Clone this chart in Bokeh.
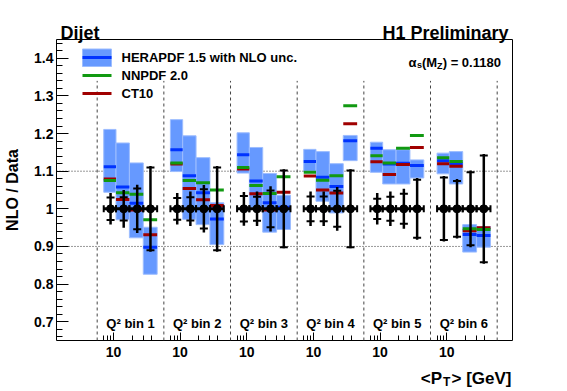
import numpy as np
from bokeh.plotting import figure
from bokeh.models import Range1d, FixedTicker, CustomJSTickFormatter, Span, Label, ColumnDataSource
from bokeh.embed import file_html
from bokeh.resources import INLINE
from bokeh.core.properties import value

# ---------------- data ----------------
q2_labels = ["Q² bin 1", "Q² bin 2", "Q² bin 3", "Q² bin 4", "Q² bin 5", "Q² bin 6"]
pt_edges = [7.0, 11.0, 18.0, 30.0, 50.0]
pt_mean = [9.0, 14.6, 24.0, 39.1]

# HERAPDF 1.5 (central, upper and lower edge of NLO uncertainty band)
hera_central = [1.112, 1.058, 1.015, 0.898,
                1.157, 1.088, 1.043, 0.973,
                1.144, 1.074, 1.016, 1.004,
                1.126, 1.084, 1.059, 1.181,
                1.161, 1.119, 1.121, 1.115,
                1.128, 1.120, 0.932, 0.929]
hera_up = [1.211, 1.175, 1.122, 0.951,
           1.237, 1.194, 1.136, 1.016,
           1.202, 1.163, 1.094, 1.036,
           1.158, 1.152, 1.120, 1.195,
           1.177, 1.157, 1.157, 1.130,
           1.148, 1.152, 0.958, 0.953]
hera_down = [1.044, 0.971, 0.923, 0.826,
             1.099, 0.972, 0.958, 0.905,
             1.095, 1.003, 0.938, 0.945,
             1.100, 1.020, 0.989, 1.128,
             1.097, 1.066, 1.066, 1.082,
             1.093, 1.066, 0.885, 0.898]
nnpdf = [1.075, 1.043, 1.039, 0.971,
         1.122, 1.075, 1.069, 1.050,
         1.110, 1.062, 1.041, 1.085,
         1.097, 1.076, 1.088, 1.274,
         1.141, 1.122, 1.161, 1.195,
         1.136, 1.126, 0.947, 0.945]
ct10 = [1.079, 1.025, 0.997, 0.931,
        1.119, 1.054, 1.024, 1.009,
        1.106, 1.040, 0.997, 1.044,
        1.087, 1.050, 1.042, 1.226,
        1.125, 1.091, 1.118, 1.163,
        1.120, 1.113, 0.942, 0.950]
data_ratio = [1.0, 1.0, 1.0, 1.0,
              1.0, 1.0, 1.0, 1.0,
              1.0, 1.0, 1.0, 1.0,
              1.0, 1.0, 1.0, 1.0,
              1.0, 1.0, 1.0, 1.0,
              1.0, 1.0, 1.0, 1.0]
stat_err = [0.030, 0.031, 0.054, 0.110,
            0.029, 0.031, 0.052, 0.110,
            0.034, 0.032, 0.049, 0.102,
            0.033, 0.033, 0.048, 0.102,
            0.027, 0.032, 0.040, 0.077,
            0.083, 0.074, 0.097, 0.142]
tot_err = [0.042, 0.050, 0.064, 0.114,
           0.042, 0.046, 0.063, 0.114,
           0.045, 0.046, 0.060, 0.105,
           0.046, 0.046, 0.058, 0.105,
           0.042, 0.046, 0.053, 0.082,
           0.087, 0.079, 0.102, 0.146]

y_ticks = [0.7, 0.8, 0.9, 1.0, 1.1, 1.2, 1.3, 1.4]
x_major = [10.0]
x_minor = [7.0, 8.0, 9.0, 20.0, 30.0, 40.0]

# ---------------- layout ----------------
panel_lo, panel_hi = 5.5, 64.0      # pT range of each Q2 panel (log axis)
F = panel_hi / panel_lo
n_bins = len(q2_labels)
x_start, x_end = 1.23, 2.4e7
y_start, y_end = 0.65, 1.45
W, H = 567, 391
FW, FH = 456, 301
FL, FT = 56, 39  # frame position in page pixels

LOGX0 = np.log10(x_start)
PXD = FW / (np.log10(x_end) - LOGX0)


def xd(px):
    return 10 ** (LOGX0 + (px - FL) / PXD)


def yd(py):
    return y_end - (py - FT) / FH * (y_end - y_start)


FONT = "Liberation Sans"

p = figure(width=W, height=H, x_axis_type="log",
           x_range=Range1d(x_start, x_end), y_range=Range1d(y_start, y_end),
           output_backend="svg", toolbar_location=None,
           min_border_left=FL, min_border_right=W - FL - FW,
           min_border_top=FT, min_border_bottom=H - FT - FH)
p.xgrid.visible = False
p.ygrid.visible = False
p.outline_line_color = "black"
p.outline_line_width = 1
p.background_fill_color = "white"
p.border_fill_color = "white"

# axes
bidx = np.repeat(np.arange(n_bins), 4)
fpow = F ** bidx
p.xaxis.ticker = FixedTicker(ticks=[t * F ** b for b in range(n_bins) for t in x_major],
                             minor_ticks=[t * F ** b for b in range(n_bins) for t in x_minor])
p.xaxis.formatter = CustomJSTickFormatter(code="return '10';")
p.yaxis.ticker = FixedTicker(ticks=y_ticks,
                             minor_ticks=list(np.round(np.arange(0.66, 1.445, 0.02), 3)))
p.yaxis.formatter = CustomJSTickFormatter(code="return (Math.round(tick*10)/10).toString();")
for ax in (p.xaxis[0], p.yaxis[0]):
    ax.axis_line_color = None
    ax.major_tick_out = 0
    ax.minor_tick_out = 0
    ax.major_tick_line_color = "black"
    ax.minor_tick_line_color = "black"
    ax.major_label_text_font = FONT
    ax.major_label_text_font_style = "bold"
    ax.major_label_text_font_size = "14px"
    ax.major_label_text_color = "black"
p.xaxis.major_tick_in = 8
p.xaxis.minor_tick_in = 5
p.xaxis.major_label_standoff = 6
p.yaxis.major_tick_in = 12
p.yaxis.minor_tick_in = 6
p.yaxis.major_label_standoff = 3
p.yaxis.axis_label = "NLO / Data"
p.yaxis.axis_label_text_font = FONT
p.yaxis.axis_label_text_font_style = "bold"
p.yaxis.axis_label_text_font_size = "16px"
p.yaxis.axis_label_text_color = "black"
p.yaxis.axis_label_standoff = 10

# reference lines
for yl in (1.1, 0.9):
    p.add_layout(Span(location=yl, dimension="width", line_color="#333333",
                      line_dash="1 2", line_width=1, level="underlay"))
edges_x = [panel_lo * F ** b for b in range(n_bins + 1)]
p.segment(x0=edges_x, x1=edges_x, y0=[y_start] * len(edges_x), y1=[1.34] * len(edges_x),
          line_color="#444444", line_dash="3 3", line_width=1)

src = ColumnDataSource(dict(
    xm=np.tile(pt_mean, n_bins) * fpow,
    xl=np.tile(pt_edges[:-1], n_bins) * fpow,
    xh=np.tile(pt_edges[1:], n_bins) * fpow,
    hc=hera_central, hu=hera_up, hd=hera_down, nn=nnpdf, ct=ct10,
    y=data_ratio,
    tu=np.array(data_ratio) + np.array(tot_err), td=np.array(data_ratio) - np.array(tot_err),
    su=np.array(data_ratio) + np.array(stat_err), sd=np.array(data_ratio) - np.array(stat_err),
))

BOX = "#6699ff"
BLUE = "#0033ff"
GREEN = "#119911"
RED = "#a00000"

p.quad(left="xl", right="xh", bottom="hd", top="hu", source=src,
       fill_color=BOX, line_color="#9dbdff", line_width=1)
p.segment(x0="xl", x1="xh", y0="hc", y1="hc", source=src, line_color=BLUE, line_width=3)
p.segment(x0="xl", x1="xh", y0="ct", y1="ct", source=src, line_color=RED, line_width=3)
p.segment(x0="xl", x1="xh", y0="nn", y1="nn", source=src, line_color=GREEN, line_width=3)

# data with errors
p.segment(x0="xl", x1="xh", y0="y", y1="y", source=src, line_color="black", line_width=3)
p.scatter(x="xl", y="y", source=src, marker="dash", angle=np.pi / 2, size=7,
          line_color="black", line_width=2)
p.scatter(x="xh", y="y", source=src, marker="dash", angle=np.pi / 2, size=7,
          line_color="black", line_width=2)
p.segment(x0="xm", x1="xm", y0="td", y1="tu", source=src, line_color="black", line_width=2.5)
p.scatter(x="xm", y="su", source=src, marker="dash", size=8, line_color="black", line_width=2)
p.scatter(x="xm", y="sd", source=src, marker="dash", size=8, line_color="black", line_width=2)
p.scatter(x="xm", y="y", source=src, marker="circle", size=8, fill_color="black",
          line_color="black")

# Q2 bin labels
lab_src = ColumnDataSource(dict(
    x=[np.sqrt(panel_lo * panel_hi) * F ** b for b in range(n_bins)],
    y=[yd(323)] * n_bins, t=q2_labels))
p.text(x="x", y="y", text="t", source=lab_src, text_font=value(FONT),
       text_font_style="bold", text_font_size="13px", text_align="center",
       text_baseline="middle", text_color="black")

# legend (drawn by hand, ROOT style)
p.quad(left=[xd(82)], right=[xd(111)], top=[yd(48.5)], bottom=[yd(66)],
       fill_color=BOX, line_color="#9dbdff", line_width=1)
for py, col in ((57, BLUE), (75, GREEN), (93, RED)):
    p.segment(x0=[xd(82)], x1=[xd(111)], y0=[yd(py)], y1=[yd(py)], line_color=col, line_width=3)


def lab(px, py, txt, size, align="left", baseline="alphabetic", angle=0.0, side=None):
    lb = Label(x=xd(px), y=yd(py), text=txt, text_font=FONT, text_font_style="bold",
               text_font_size=size, text_align=align, text_baseline=baseline,
               angle=angle, text_color="black")
    if side is None:
        p.add_layout(lb)
    else:
        p.add_layout(lb, side)


for py, txt in ((57, "HERAPDF 1.5 with NLO unc."), (75, "NNPDF 2.0"), (93, "CT10")):
    lab(121, py, txt, "13px", baseline="middle")

# alpha_s label
lab(408, 61.5, "α", "13px")
lab(416.5, 64.5, "s", "9px")
lab(421.5, 61.5, "(M", "13px")
lab(436.6, 65.5, "Z", "9px")
lab(442.2, 61.5, ") = 0.1180", "13px")

# texts outside the frame live in side panels (not clipped there);
# spread over the panels so that each panel keeps its border size
lab(60, 32, "Dijet", "18px", side="right")
lab(508, 32, "H1 Preliminary", "18px", align="right", side="above")
lab(511, 378, "<P\u00a0\u00a0> [GeV]", "17px", align="right", side="below")
lab(442.6, 381, "T", "12px", side="right")

open("out.html", "w").write(file_html(p, INLINE))
